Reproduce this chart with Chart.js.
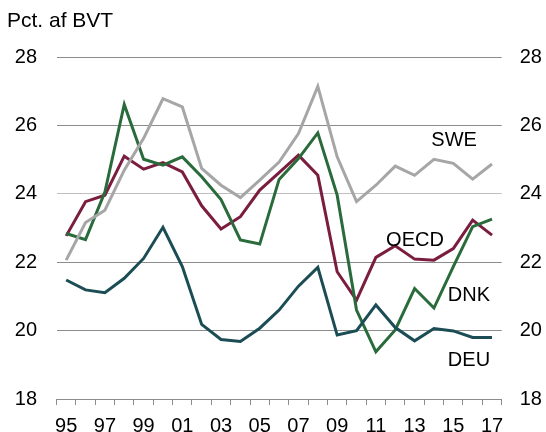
<!DOCTYPE html>
<html>
<head>
<meta charset="utf-8">
<script src="https://cdn.jsdelivr.net/npm/chart.js@4/dist/chart.umd.min.js"></script>
<style>
  html, body { margin: 0; padding: 0; background: #fff; }
  #wrap { width: 546px; height: 432px; position: relative; }
</style>
</head>
<body>
<div id="wrap"><canvas id="chart"></canvas></div>
<script>
// År (1995-2017)
const years = ["95","96","97","98","99","00","01","02","03","04","05","06",
               "07","08","09","10","11","12","13","14","15","16","17"];

// Pct. af BVT
const swe  = [22.06, 23.16, 23.52, 24.69, 25.62, 26.78, 26.54, 24.74, 24.25, 23.89, 24.40, 24.93,
              25.76, 27.14, 25.08, 23.77, 24.25, 24.81, 24.54, 25.01, 24.89, 24.43, 24.87];
const oecd = [22.77, 23.77, 23.96, 25.10, 24.72, 24.91, 24.64, 23.65, 22.97, 23.33, 24.11, 24.62,
              25.13, 24.54, 21.72, 20.89, 22.14, 22.48, 22.09, 22.06, 22.40, 23.23, 22.79];
const dnk  = [22.84, 22.66, 24.05, 26.61, 25.01, 24.84, 25.08, 24.50, 23.83, 22.65, 22.53, 24.42,
              25.03, 25.78, 23.96, 20.60, 19.38, 20.02, 21.23, 20.66, 21.87, 23.04, 23.26];
const deu  = [21.48, 21.19, 21.11, 21.53, 22.11, 23.02, 21.87, 20.18, 19.74, 19.68, 20.07, 20.60,
              21.30, 21.85, 19.87, 20.00, 20.75, 20.09, 19.70, 20.06, 19.99, 19.80, 19.80];

const FONT = "'Liberation Sans', Arial, sans-serif";

// serienavne skrevet direkte i plottet
const seriesLabels = [
    { text: "SWE",  idx: 20.04, val: 25.57 },
    { text: "OECD", idx: 18.02, val: 22.64 },
    { text: "DNK",  idx: 20.81, val: 21.04 },
    { text: "DEU",  idx: 20.81, val: 19.14 },
];

const labelPlugin = {
    id: "labels",
    afterDatasetsDraw(chart) {
        const c = chart.ctx;
        const xs = chart.scales.x, ys = chart.scales.y;
        c.save();
        c.fillStyle = "#000";
        c.font = "20px " + FONT;
        c.textAlign = "center";
        c.textBaseline = "middle";
        seriesLabels.forEach(l => {
            c.fillText(l.text, xs.getPixelForValue(l.idx), ys.getPixelForValue(l.val));
        });
        // enhed øverst til venstre
        c.textAlign = "left";
        c.textBaseline = "alphabetic";
        c.font = "21px " + FONT;
        c.fillText("Pct. af BVT", 7, 27);
        c.restore();
    }
};

function line(data, color) {
    return {
        data: data,
        borderColor: color,
        borderWidth: 3,
        pointRadius: 0,
        fill: false,
        tension: 0,
    };
}

new Chart(document.getElementById("chart"), {
    type: "line",
    data: {
        labels: years,
        datasets: [
            line(deu,  "#1c4d55"),
            line(swe,  "#a6a6a6"),
            line(dnk,  "#2a6b3b"),
            line(oecd, "#7b1d3f"),
        ],
    },
    options: {
        responsive: true,
        maintainAspectRatio: false,
        animation: false,
        layout: { padding: { top: 57, bottom: 0, left: 0, right: 0 } },
        plugins: { legend: { display: false }, tooltip: { enabled: false } },
        scales: {
            x: {
                offset: true,
                grid: {
                    offset: true,
                    drawOnChartArea: false,
                    drawTicks: true,
                    tickLength: 6,
                    color: "#8c8c8c",
                },
                border: { display: true, color: "#8c8c8c", width: 1 },
                ticks: {
                    autoSkip: false,
                    maxRotation: 0,
                    padding: 9,
                    color: "#000",
                    font: { family: FONT, size: 20 },
                    callback: (v, i) => (i % 2 === 0 ? years[i] : ""),
                },
                afterFit: s => { s.height = 33; },
            },
            y: {
                position: "left",
                min: 18,
                max: 28,
                grid: {
                    drawTicks: false,
                    color: ctx => (ctx.tick && ctx.tick.value === 24 ? "#bfbfbf" : "#8c8c8c"),
                    lineWidth: 1,
                },
                border: { display: false },
                ticks: {
                    stepSize: 2,
                    padding: 19.5,
                    color: "#000",
                    font: { family: FONT, size: 20 },
                },
                afterFit: s => { s.width = 56.5; },
            },
            y2: {
                position: "right",
                min: 18,
                max: 28,
                grid: { display: false, drawTicks: false },
                border: { display: false },
                ticks: {
                    stepSize: 2,
                    padding: 18,
                    color: "#000",
                    font: { family: FONT, size: 20 },
                },
                afterFit: s => { s.width = 44.3; },
            },
        },
    },
    plugins: [labelPlugin],
});
</script>
</body>
</html>
